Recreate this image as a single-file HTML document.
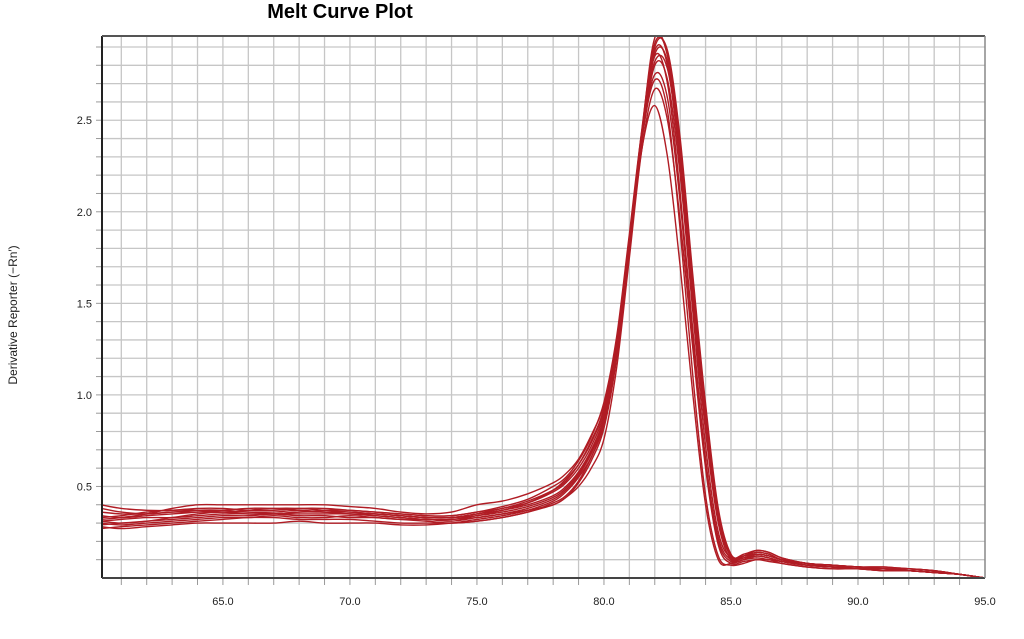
<!DOCTYPE html>
<html><head><meta charset="utf-8"><style>
html,body{margin:0;padding:0;background:#fff;}
svg{display:block;font-family:"Liberation Sans",Arial,sans-serif;}
</style></head><body>
<svg id="chart" width="1024" height="639" viewBox="0 0 1024 639">
<text x="340" y="18" text-anchor="middle" font-size="20" font-weight="bold" fill="#000">Melt Curve Plot</text>
<text transform="translate(17,315) rotate(-90)" text-anchor="middle" font-size="12" fill="#222">Derivative Reporter (−Rn′)</text>
<defs><clipPath id="plotclip"><rect x="102" y="36" width="883" height="542"/></clipPath></defs>
<g id="grid"></g>
<g id="series" clip-path="url(#plotclip)"></g>
<g id="axes"></g>
</svg>
<script>
const temps=[60.2,61,62,63,64,65,66,67,68,69,70,71,72,73,74,75,76,77,78,78.5,79,79.5,80,80.5,81,81.5,82,82.5,83,83.5,84,84.5,85,85.5,86,86.5,87,88,89,90,91,92,93,94,95];
const c1=[.38,.36,.35,.36,.37,.37,.36,.36,.37,.36,.35,.35,.34,.33,.33,.35,.37,.40,.45,.50,.58,.70,.88,1.25,1.82,2.45,2.95,2.85,2.35,1.60,.90,.35,.12,.11,.12,.11,.09,.07,.06,.06,.05,.04,.03,.02,.00];
const c2=[.32,.33,.35,.38,.40,.40,.40,.40,.40,.40,.39,.38,.36,.35,.36,.40,.42,.46,.52,.57,.65,.78,.95,1.30,1.85,2.40,2.88,2.80,2.25,1.50,.80,.30,.10,.12,.15,.14,.11,.08,.07,.06,.06,.05,.04,.02,.00];
const c3=[.30,.29,.30,.31,.32,.33,.33,.34,.33,.33,.34,.33,.32,.31,.30,.31,.33,.36,.40,.44,.52,.64,.82,1.20,1.78,2.42,2.85,2.70,2.10,1.35,.65,.22,.10,.11,.13,.12,.10,.07,.06,.05,.05,.04,.03,.02,.00];
const c4=[.28,.27,.28,.29,.30,.30,.30,.30,.31,.30,.30,.30,.29,.29,.30,.32,.34,.37,.42,.47,.55,.66,.85,1.22,1.80,2.35,2.58,2.30,1.70,1.00,.40,.10,.08,.10,.11,.10,.09,.07,.06,.05,.04,.04,.03,.02,.00];
const c5=[.34,.33,.34,.35,.36,.37,.38,.38,.37,.36,.35,.34,.33,.32,.32,.34,.37,.41,.48,.54,.62,.74,.92,1.28,1.83,2.40,2.80,2.72,2.20,1.45,.72,.25,.11,.12,.14,.13,.10,.08,.07,.06,.05,.04,.03,.02,.00];
const c6=[.31,.32,.33,.33,.34,.35,.35,.35,.36,.36,.36,.35,.34,.33,.33,.34,.36,.39,.44,.49,.57,.69,.87,1.24,1.80,2.44,2.90,2.88,2.40,1.65,.95,.38,.13,.12,.13,.12,.10,.08,.07,.06,.05,.05,.04,.02,.00];
const c7=[.29,.30,.31,.32,.33,.34,.34,.35,.35,.35,.35,.34,.33,.32,.32,.33,.35,.37,.40,.44,.50,.60,.76,1.15,1.75,2.35,2.67,2.50,1.95,1.25,.60,.18,.08,.09,.10,.10,.08,.06,.05,.05,.04,.04,.03,.02,.00];
const c8=[.40,.38,.37,.37,.38,.38,.37,.37,.38,.38,.37,.36,.35,.34,.34,.36,.38,.42,.48,.53,.62,.75,.93,1.30,1.86,2.42,2.75,2.62,2.05,1.30,.62,.20,.09,.10,.12,.11,.09,.07,.06,.05,.05,.04,.03,.02,.00];
const c9=[.33,.34,.36,.37,.37,.36,.35,.35,.36,.37,.37,.36,.35,.34,.34,.36,.39,.43,.50,.55,.64,.77,.96,1.32,1.88,2.45,2.82,2.78,2.30,1.55,.85,.32,.12,.13,.15,.14,.11,.08,.07,.06,.06,.05,.04,.02,.00];
const c10=[.27,.28,.29,.30,.31,.32,.33,.33,.32,.32,.32,.31,.30,.30,.30,.31,.33,.36,.41,.45,.53,.66,.84,1.22,1.80,2.40,2.72,2.55,1.90,1.10,.45,.12,.07,.08,.10,.09,.08,.06,.05,.05,.04,.04,.03,.02,.00];
const c11=[.36,.35,.35,.36,.36,.36,.37,.38,.38,.37,.36,.35,.34,.33,.33,.35,.38,.41,.47,.52,.60,.72,.90,1.26,1.82,2.42,2.86,2.82,2.32,1.58,.88,.33,.12,.11,.13,.12,.10,.08,.07,.06,.05,.05,.04,.02,.00];
const c12=[.31,.30,.31,.33,.35,.36,.36,.35,.34,.34,.33,.33,.32,.32,.31,.33,.35,.38,.43,.48,.56,.68,.86,1.25,1.84,2.46,2.92,2.86,2.36,1.62,.92,.36,.11,.12,.14,.13,.10,.08,.06,.06,.05,.04,.03,.02,.00];
const seriesList=[c1,c2,c3,c4,c5,c6,c7,c8,c9,c10,c11,c12];
const xTickLabels=["65.0","70.0","75.0","80.0","85.0","90.0","95.0"];
const yTickLabels=["0.5","1.0","1.5","2.0","2.5"];

const NS="http://www.w3.org/2000/svg";
const L=102,R=985,T=36,B=578;
const xMin=60.24,xMax=95,yMin=0,yMax=2.96;
const sx=v=>L+(v-xMin)/(xMax-xMin)*(R-L);
const sy=v=>B-(v-yMin)/(yMax-yMin)*(B-T);
function mk(tag,attrs,parent){const e=document.createElementNS(NS,tag);for(const k in attrs)e.setAttribute(k,attrs[k]);parent.appendChild(e);return e;}
const grid=document.getElementById('grid'),axes=document.getElementById('axes'),ser=document.getElementById('series');
// vertical grid every 1 degree
for(let t=61;t<=94;t++){const x=sx(t);
 const g=mk('line',{x1:x,x2:x,y1:T,y2:B,stroke:'#c6c6c6','stroke-width':1.3},grid);
 
 
 const tk=mk('line',{x1:x,x2:x,y1:B,y2:B+7,stroke:'#999','stroke-width':1},axes);
 
 }
// horizontal grid every 0.1
for(let i=1;i<=29;i++){const v=i/10;const y=sy(v);
 const g=mk('line',{x1:L,x2:R,y1:y,y2:y,stroke:'#c6c6c6','stroke-width':1.3},grid);
 
 
 const tk=mk('line',{x1:L-6,x2:L,y1:y,y2:y,stroke:'#999','stroke-width':1},axes);
 
 }
// axes lines
const ax1=mk('line',{x1:L,x2:L,y1:T,y2:B,stroke:'#222','stroke-width':2},axes);


const ax2=mk('line',{x1:L,x2:R,y1:B,y2:B,stroke:'#444','stroke-width':2},axes);


const ax3=mk('line',{x1:L,x2:R,y1:T,y2:T,stroke:'#555','stroke-width':2},axes);


const ax4=mk('line',{x1:R,x2:R,y1:T,y2:B,stroke:'#888','stroke-width':1.5},axes);


xTickLabels.forEach(s=>{const t=mk('text',{x:sx(parseFloat(s)),y:605,'text-anchor':'middle','font-size':11,fill:'#222'},axes);t.textContent=s;
 
 });
yTickLabels.forEach(s=>{const t=mk('text',{x:92,y:sy(parseFloat(s))+4,'text-anchor':'end','font-size':11,fill:'#222'},axes);t.textContent=s;
 
 });
// curves (Catmull-Rom smoothing)
seriesList.forEach((vals,si)=>{
 const pts=temps.map((t,i)=>[sx(t),sy(vals[i])]);
 let d='M'+pts[0][0].toFixed(1)+','+pts[0][1].toFixed(1);
 for(let i=0;i<pts.length-1;i++){
  const p0=pts[Math.max(0,i-1)],p1=pts[i],p2=pts[i+1],p3=pts[Math.min(pts.length-1,i+2)];
  const c1x=p1[0]+(p2[0]-p0[0])/6,c1y=p1[1]+(p2[1]-p0[1])/6;
  const c2x=p2[0]-(p3[0]-p1[0])/6,c2y=p2[1]-(p3[1]-p1[1])/6;
  d+=`C${c1x.toFixed(1)},${c1y.toFixed(1)} ${c2x.toFixed(1)},${c2y.toFixed(1)} ${p2[0].toFixed(1)},${p2[1].toFixed(1)}`;
 }
 const p=mk('path',{d:d,fill:'none',stroke:'#b01c24','stroke-width':1.4},ser);
 
 
});
</script>
</body></html>
